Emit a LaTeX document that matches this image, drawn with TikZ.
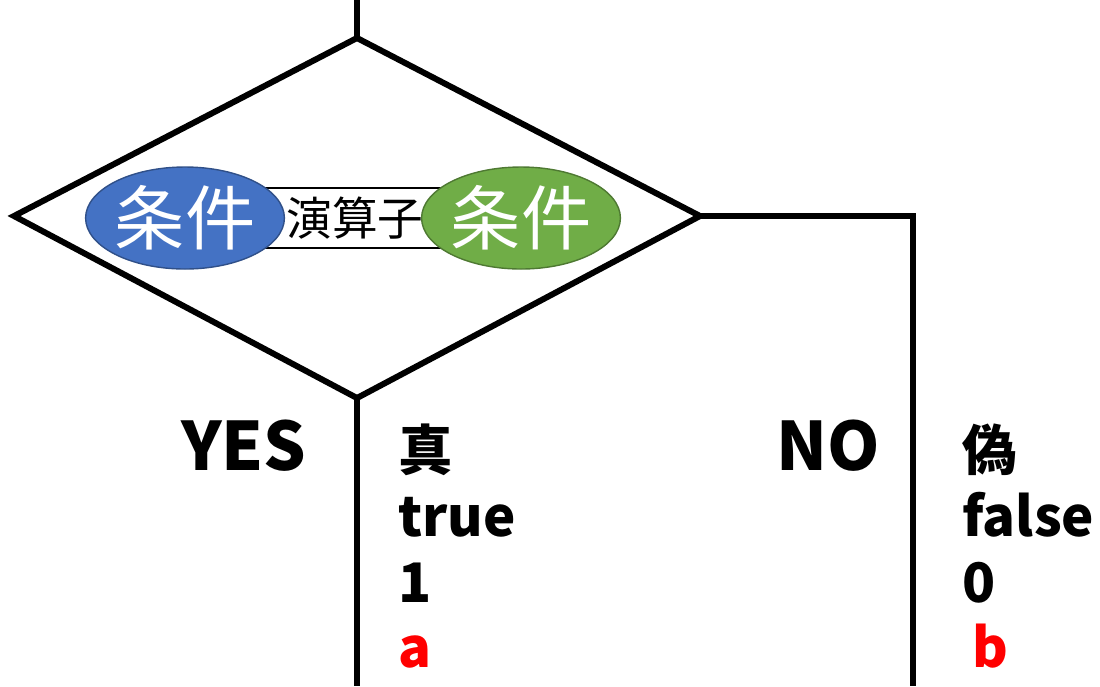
\documentclass[tikz,border=0pt]{standalone}
\usepackage{fontspec}
\setmainfont{Noto Sans CJK JP}
\usetikzlibrary{calc,shapes.geometric}
\tikzset{cond/.style={ellipse,draw=#1!70!black,fill=#1,minimum width=1.86cm,minimum height=1.02cm,text=white,font=\fontsize{20}{20}\selectfont,inner sep=0pt},
big/.style={font=\fontsize{19}{19}\selectfont\bfseries,anchor=base west},
mid/.style={font=\fontsize{15.5}{15.5}\selectfont\bfseries,anchor=base west}}
\definecolor{condblue}{RGB}{68,114,196}
\definecolor{condgreen}{RGB}{112,173,71}
\begin{document}
\begin{tikzpicture}[x=1cm,y=-1cm]
\useasboundingbox (0,0) rectangle (11,6.86);
\coordinate (in) at (3.57,0);
\coordinate (T) at (3.57,0.38);
\coordinate (L) at (0.14,2.16);
\coordinate (R) at (7.00,2.16);
\coordinate (B) at (3.57,3.98);
\coordinate (corner) at (9.13,2.16);
\coordinate (outyes) at (3.57,6.86);
\coordinate (outno) at (9.13,6.86);
\draw[line width=0.06cm,line join=miter] (T) -- (R) -- (B) -- (L) -- cycle;
\draw[line width=0.06cm] (in) -- (T) (B) -- (outyes);
\draw[line width=0.06cm,line join=miter] (R) -- (corner) -- (outno);
% condition
\node[draw,fill=white,minimum width=1.8cm,minimum height=0.6cm,inner sep=0pt,font=\fontsize{13}{13}\selectfont] (op) at (3.55,2.18) {演算子};
\node[cond=condblue] (c1) at (1.85,2.18) {条件};
\node[cond=condgreen] (c2) at (5.21,2.18) {条件};
% yes branch
\node[big,anchor=base east] (yes) at (3.19,4.70) {YES};
\node[mid] (t1) at (3.86,4.70) {真};
\node[mid] (t2) at (3.86,5.36) {true};
\node[mid] (t3) at (3.86,6.02) {1};
\node[mid,text=red] (t4) at (3.86,6.67) {a};
% no branch
\node[big] (no) at (7.64,4.70) {NO};
\node[mid] (f1) at (9.50,4.70) {偽};
\node[mid] (f2) at (9.50,5.36) {false};
\node[mid] (f3) at (9.50,6.02) {0};
\node[mid,text=red] (f4) at (9.60,6.67) {b};
\end{tikzpicture}
\end{document}
